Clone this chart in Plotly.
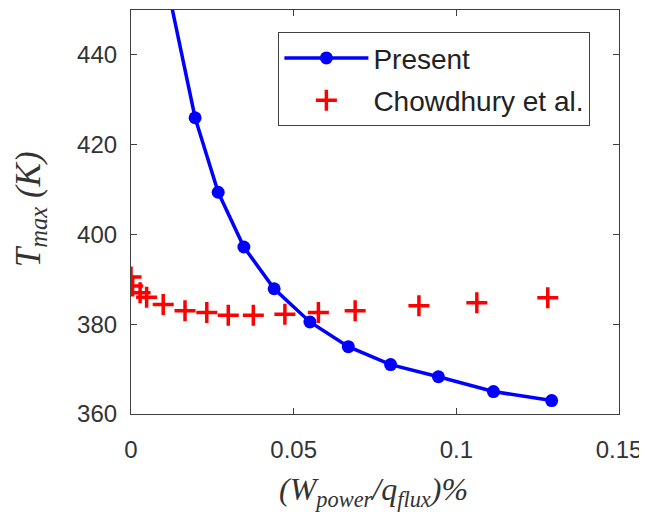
import plotly.graph_objects as go

# Present (blue line with circles)
present_x = [0.0110, 0.0197, 0.0268, 0.0347, 0.0440, 0.0550, 0.0668, 0.0798, 0.0945, 0.1114, 0.1293]
present_y = [456.0, 426.0, 409.4, 397.2, 387.9, 380.5, 375.0, 371.0, 368.3, 365.0, 363.0]

# Chowdhury et al. (red plus markers)
chow_x = [0.0000, 0.0005, 0.0028, 0.0048, 0.0099, 0.0166, 0.0233, 0.0299, 0.0376, 0.0473, 0.0576, 0.0689, 0.0885, 0.1063, 0.1281]
chow_y = [390.5, 388.5, 387.0, 386.0, 384.4, 383.0, 382.6, 382.0, 382.0, 382.2, 382.6, 383.0, 384.1, 384.8, 385.9]

x_ticks = [0, 0.05, 0.1, 0.15]
x_tick_labels = ["0", "0.05", "0.1", "0.15"]
y_ticks = [360, 380, 400, 420, 440]

x_title = "<i>(W<sub>power</sub>/q<sub>flux</sub>)%</i>"
y_title = "<i>T<sub>max</sub> (K)</i>"

axis_color = "#404040"
sans = "Liberation Sans, Arial, sans-serif"
serif = "Liberation Serif, Times New Roman, serif"
tick_font = dict(family=sans, size=24, color="#333333")

fig = go.Figure()
fig.add_trace(go.Scatter(
    x=present_x, y=present_y, mode="lines+markers", name="Present", legendgroup="a",
    line=dict(color="#0000FF", width=3.5),
    marker=dict(symbol="circle", size=13, color="#0000FF"),
))
fig.add_trace(go.Scatter(
    x=chow_x, y=chow_y, mode="markers", name="Chowdhury et al.", legendgroup="b",
    marker=dict(symbol="cross-thin", size=15, line=dict(color="#FF0000", width=3.5), color="#FF0000"),
))

fig.update_layout(
    width=639, height=511,
    margin=dict(l=123, r=28, t=2, b=105),
    paper_bgcolor="white", plot_bgcolor="white",
    showlegend=True,
    legend=dict(
        x=0.302, y=0.945, xanchor="left", yanchor="top",
        bgcolor="white", bordercolor=axis_color, borderwidth=1,
        font=dict(family=sans, size=28, color="#222222"),
        tracegroupgap=3, traceorder="grouped", itemsizing="trace",
        itemwidth=84,
    ),
    xaxis=dict(
        range=[0, 0.15], tickvals=x_ticks, ticktext=x_tick_labels,
        showgrid=False, zeroline=False, showline=True, mirror="ticks",
        linecolor=axis_color, linewidth=1.2, ticks="inside", ticklen=6, tickcolor=axis_color,
        tickfont=tick_font, ticklabelstandoff=14, automargin=False,
    ),
    yaxis=dict(
        range=[360, 450], tickvals=y_ticks,
        showgrid=False, zeroline=False, showline=True, mirror="ticks",
        linecolor=axis_color, linewidth=1.2, ticks="inside", ticklen=6, tickcolor=axis_color,
        tickfont=tick_font, ticklabelstandoff=8, automargin=False,
    ),
    annotations=[
        dict(text=x_title, xref="paper", yref="paper", x=0.496, y=-0.193,
             xanchor="center", yanchor="middle", showarrow=False,
             font=dict(family=serif, size=32, color="#333333")),
        dict(text=y_title, xref="paper", yref="paper", x=-0.207, y=0.507,
             xanchor="center", yanchor="middle", textangle=-90, showarrow=False,
             font=dict(family=serif, size=35, color="#333333")),
    ],
)

fig.write_html("out.html")
